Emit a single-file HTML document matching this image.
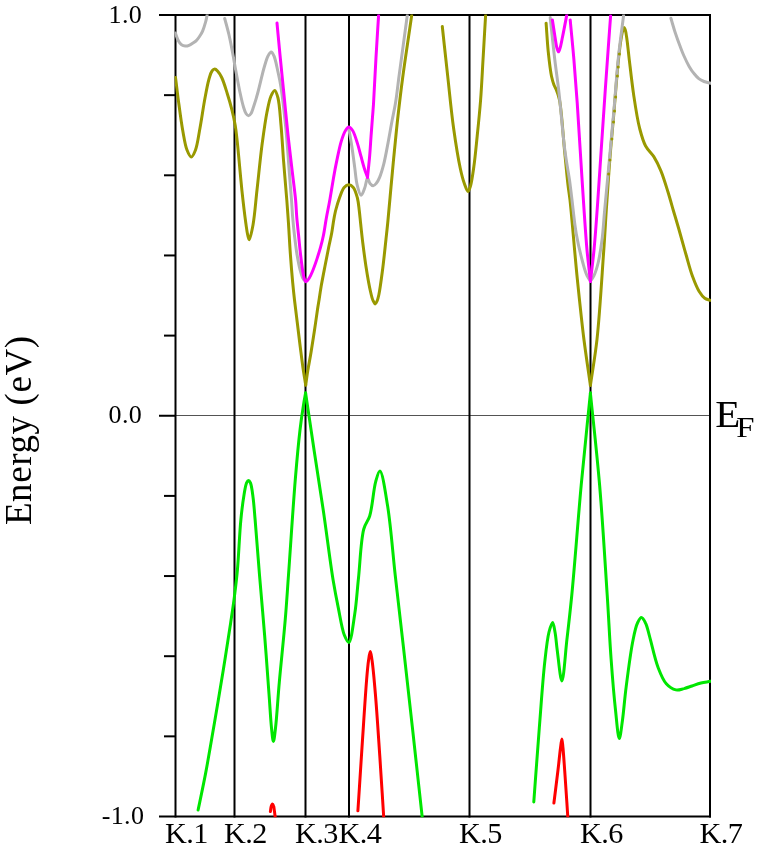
<!DOCTYPE html>
<html lang="en">
<head>
<meta charset="utf-8">
<title>Band structure</title>
<style>
html,body{margin:0;padding:0;background:#fff;}
body{width:761px;height:846px;overflow:hidden;position:relative;}
svg{position:absolute;left:0;top:0;display:block;will-change:transform;}
text{font-family:"Liberation Serif",serif;fill:#000;}
.c{fill:none;stroke-width:3;stroke-linecap:round;stroke-linejoin:round;}
.f{stroke:#000;stroke-width:2;fill:none;}
</style>
</head>
<body>
<svg width="761" height="846" viewBox="0 0 761 846">
<rect x="0" y="0" width="761" height="846" fill="#fff"/>
<defs><clipPath id="cp"><rect x="174.5" y="14.5" width="536.5" height="802.8"/></clipPath></defs>
<line x1="175.5" y1="415.5" x2="710.0" y2="415.5" stroke="#000" stroke-opacity="0.67" stroke-width="1"/>
<line class="f" x1="175.5" y1="14.0" x2="175.5" y2="817.5"/>
<line class="f" x1="234.5" y1="14.0" x2="234.5" y2="817.5"/>
<line class="f" x1="305.5" y1="14.0" x2="305.5" y2="817.5"/>
<line class="f" x1="349.0" y1="14.0" x2="349.0" y2="817.5"/>
<line class="f" x1="469.5" y1="14.0" x2="469.5" y2="817.5"/>
<line class="f" x1="590.5" y1="14.0" x2="590.5" y2="817.5"/>
<line class="f" x1="710.0" y1="14.0" x2="710.0" y2="817.5"/>
<line class="f" x1="159" y1="15.0" x2="711.0" y2="15.0"/>
<line class="f" x1="159" y1="816.5" x2="711.0" y2="816.5"/>
<line class="f" x1="164" y1="95.15" x2="175.5" y2="95.15"/>
<line class="f" x1="164" y1="175.30" x2="175.5" y2="175.30"/>
<line class="f" x1="164" y1="255.45" x2="175.5" y2="255.45"/>
<line class="f" x1="164" y1="335.60" x2="175.5" y2="335.60"/>
<line class="f" x1="159" y1="415.75" x2="175.5" y2="415.75"/>
<line class="f" x1="164" y1="495.90" x2="175.5" y2="495.90"/>
<line class="f" x1="164" y1="576.05" x2="175.5" y2="576.05"/>
<line class="f" x1="164" y1="656.20" x2="175.5" y2="656.20"/>
<line class="f" x1="164" y1="736.35" x2="175.5" y2="736.35"/>
<g clip-path="url(#cp)">
<path class="c" stroke="#999900" d="M175.5 77.4C176.7 86.6 177.7 95.9 179.0 105.0C180.2 114.1 181.5 123.9 183.0 132.0C184.2 138.6 185.2 145.5 187.0 150.0C188.2 153.0 189.9 157.0 191.3 157.0C192.7 157.0 194.3 153.1 195.5 150.0C197.5 144.8 198.5 135.9 200.0 128.0C201.7 118.8 203.3 106.8 205.0 98.0C206.3 90.9 207.6 83.9 209.0 79.0C210.0 75.7 210.7 72.7 212.0 71.0C212.8 69.9 213.8 69.0 214.7 69.0C215.6 69.0 216.6 70.0 217.5 71.0C218.9 72.5 220.4 74.7 221.7 77.5C223.7 81.6 225.6 88.3 227.3 93.7C229.0 99.0 230.5 104.1 231.8 109.4C233.1 114.6 234.3 120.1 235.2 125.2C236.0 129.8 236.4 133.9 236.9 138.5C237.5 143.6 237.9 148.0 238.5 154.4C239.4 164.0 240.7 178.6 241.9 190.3C243.1 201.5 244.7 214.9 245.8 223.0C246.5 227.8 246.9 231.4 247.6 234.5C248.1 236.6 248.6 239.7 249.2 239.7C250.2 239.7 251.9 231.0 253.0 225.0C254.7 215.9 255.6 202.4 257.0 190.0C258.6 175.9 260.2 158.8 262.0 145.0C263.6 133.1 265.2 121.0 267.0 112.0C268.3 105.7 269.3 99.9 271.0 96.0C272.1 93.5 273.6 90.3 274.7 90.4C275.9 90.5 277.1 94.6 278.0 98.0C279.6 104.2 280.1 115.4 281.0 125.0C282.0 135.9 282.6 147.9 283.5 160.0C284.5 172.9 285.9 188.4 286.8 200.0C287.5 208.9 287.9 215.3 288.5 223.6C289.1 232.9 289.6 243.3 290.3 253.2C291.0 263.0 291.9 274.2 292.7 282.7C293.3 289.2 293.8 293.9 294.5 300.0C295.3 306.9 296.3 314.6 297.2 322.0C298.1 329.6 299.0 337.3 300.0 345.0C301.0 352.7 302.0 360.9 303.0 368.0C303.9 374.1 304.8 379.3 305.7 385.0"/>
<path class="c" stroke="#999900" d="M305.7 385.0C306.4 380.2 307.0 375.7 307.8 370.6C308.7 364.9 310.0 358.7 311.0 352.4C312.1 345.7 313.2 338.6 314.3 331.6C315.4 324.3 316.6 315.5 317.5 309.5C318.1 305.4 318.6 302.7 319.2 299.0C319.8 294.9 320.4 290.8 321.2 286.0C322.3 279.8 323.9 271.7 325.2 265.0C326.4 258.8 327.6 252.9 328.7 247.3C329.7 242.3 330.9 237.6 331.7 233.1C332.4 229.2 332.8 225.7 333.4 222.0C334.0 218.3 334.6 214.8 335.5 211.0C336.6 206.7 338.1 201.6 339.6 197.5C341.0 193.9 342.2 189.6 344.1 187.5C345.5 186.0 347.3 184.8 348.8 184.8C350.3 184.8 352.0 185.9 353.3 187.4C355.2 189.6 356.4 194.3 357.4 198.0C358.4 201.8 358.7 205.8 359.2 210.0C359.8 214.7 360.2 219.8 360.8 225.0C361.4 230.7 362.0 236.6 362.8 243.0C363.7 250.2 364.7 258.1 365.9 266.0C367.2 274.4 369.1 285.7 370.6 292.0C371.4 295.6 372.0 298.3 373.0 300.5C373.7 302.0 374.6 304.0 375.3 304.0C376.0 304.0 376.7 301.9 377.3 300.5C378.0 298.8 378.3 297.2 378.9 294.5C380.0 289.3 381.3 279.4 382.4 271.0C383.7 261.4 384.9 249.2 385.9 240.0C386.7 232.6 387.3 227.5 388.0 220.0C388.9 210.4 390.0 198.2 391.0 187.0C392.1 175.5 393.1 163.7 394.3 152.0C395.5 140.1 396.6 128.1 398.0 116.0C399.4 103.7 400.9 91.0 402.5 79.0C404.0 67.7 405.6 56.8 407.2 46.0C408.7 35.6 410.2 25.5 411.7 15.3"/>
<path class="c" stroke="#999900" d="M442.3 26.5C444.1 43.1 445.8 59.4 447.7 76.2C449.6 93.3 451.3 112.1 453.6 128.2C455.6 142.4 458.0 157.7 460.2 168.0C461.6 174.6 462.9 179.7 464.5 184.0C465.6 187.0 466.9 191.5 468.0 191.5C468.9 191.5 469.7 188.4 470.5 186.0C471.8 181.6 472.8 174.1 473.8 167.0C475.1 157.9 476.1 146.7 477.2 136.0C478.4 124.5 479.6 112.7 480.6 100.0C481.7 85.8 482.4 69.5 483.3 55.0C484.1 41.4 484.8 28.5 485.6 15.3"/>
<path class="c" stroke="#999900" d="M546.1 23.2C546.8 32.6 547.3 42.3 548.2 51.4C549.1 59.9 550.2 70.1 551.5 76.2C552.3 79.9 553.1 82.6 554.0 85.0C554.7 86.8 555.5 87.7 556.2 89.5C557.3 92.2 558.5 95.1 559.5 100.0C561.6 110.4 563.0 134.8 564.5 150.0C565.8 162.7 566.9 175.8 568.0 185.0C568.7 191.1 569.2 193.0 570.0 200.0C571.8 215.9 574.8 254.3 577.3 278.8C579.5 300.3 581.6 320.5 583.9 339.3C586.0 355.7 588.2 370.0 590.4 385.3"/>
<path class="c" stroke="#999900" d="M590.4 385.3C592.6 370.0 595.0 357.1 597.0 339.3C599.7 315.0 601.9 276.4 603.6 252.6C604.8 235.9 605.4 223.8 606.3 210.0C607.2 197.0 608.1 182.9 608.9 172.0C609.5 163.7 609.9 158.2 610.6 150.0C611.5 139.5 612.6 127.2 613.8 114.0C615.2 97.8 616.9 74.2 618.4 60.0C619.4 50.7 620.4 42.5 621.4 37.0C621.9 33.9 622.4 31.5 623.0 29.8C623.3 28.8 623.7 27.4 624.1 27.4C624.5 27.4 624.9 28.9 625.3 30.0C625.9 31.7 626.2 34.1 626.6 37.0C627.4 42.0 628.1 49.5 629.0 57.3C630.3 68.0 631.9 82.9 633.7 95.1C635.4 106.5 637.2 118.9 639.6 128.2C641.4 135.1 642.9 141.0 645.6 146.0C647.9 150.2 651.3 152.7 653.8 156.6C656.5 160.9 658.7 165.5 660.9 170.8C663.5 177.1 665.9 185.2 668.0 192.0C669.9 198.2 671.4 203.7 673.2 210.0C675.3 217.1 677.7 225.0 679.8 232.5C681.9 239.9 683.9 247.2 686.0 254.5C688.1 261.7 690.0 269.5 692.4 276.0C694.5 281.7 696.7 287.5 699.2 291.5C701.0 294.4 702.7 296.8 704.8 298.3C706.5 299.5 708.4 299.6 710.2 300.3"/>
<path class="c" stroke="#b3b3b3" d="M175.4 33.0C176.4 35.7 177.3 38.9 178.5 41.0C179.4 42.6 180.3 44.0 181.5 44.8C182.6 45.5 183.9 45.9 185.2 46.0C186.4 46.1 187.8 45.8 189.0 45.3C190.4 44.8 191.8 43.8 193.0 43.0C194.2 42.2 195.3 41.6 196.3 40.6C197.5 39.5 198.5 38.0 199.5 36.5C200.6 34.9 201.7 33.2 202.6 31.1C203.8 28.4 204.9 24.6 205.7 21.7C206.4 19.2 206.7 16.9 207.2 14.5"/>
<path class="c" stroke="#b3b3b3" d="M224.7 18.5C226.1 23.8 227.6 28.8 228.9 34.5C230.4 41.0 232.0 49.4 233.1 55.5C234.0 60.2 234.4 63.1 235.3 68.0C236.6 74.8 238.5 85.4 240.0 92.5C241.2 98.0 242.3 103.2 243.5 107.0C244.3 109.6 245.0 112.0 246.0 113.5C246.7 114.6 247.7 115.8 248.5 115.8C249.3 115.8 250.3 114.6 251.0 113.5C252.0 112.0 252.6 109.6 253.5 107.0C254.8 103.1 256.5 97.6 258.0 92.0C259.9 85.0 262.1 74.6 264.0 68.0C265.4 63.3 266.5 58.8 268.0 56.0C269.0 54.2 270.2 52.0 271.2 52.0C272.2 52.0 273.1 54.1 274.0 56.0C275.6 59.5 276.8 66.7 278.0 72.0C279.2 77.3 280.1 81.4 281.1 88.0C282.7 98.3 284.4 114.3 285.8 128.2C287.3 143.2 288.5 161.8 289.5 175.0C290.3 184.6 290.9 192.4 291.5 200.0C292.0 206.4 292.2 211.8 292.7 217.7C293.2 223.6 293.8 229.6 294.5 235.5C295.2 241.4 295.9 247.5 296.8 253.2C297.7 258.5 298.6 264.1 299.8 268.6C300.8 272.3 301.7 276.2 303.0 278.5C303.8 279.9 304.8 280.6 305.7 281.6"/>
<path class="c" stroke="#b3b3b3" d="M348.8 128.4C349.8 134.5 350.9 140.4 351.9 146.8C352.9 153.6 353.9 161.4 354.8 168.1C355.6 174.1 355.9 180.2 357.2 185.1C358.2 189.0 359.8 195.2 361.1 195.3C362.3 195.4 363.7 190.7 364.7 188.0C365.9 185.0 366.5 178.1 367.5 178.0C368.3 177.9 368.9 182.2 370.0 183.5C370.9 184.6 372.1 185.8 373.2 185.8C374.3 185.8 375.5 184.2 376.5 183.0C377.7 181.5 378.6 179.7 379.6 177.3C381.1 173.8 382.5 168.8 383.8 163.8C385.4 157.6 386.7 149.7 388.1 142.6C389.5 135.4 390.7 127.9 392.0 121.0C393.2 114.7 394.4 109.7 395.5 103.0C396.9 94.7 397.9 84.5 399.2 75.0C400.5 65.3 401.9 55.4 403.2 45.5C404.6 35.5 405.9 25.4 407.3 15.3"/>
<path class="c" stroke="#b3b3b3" d="M550.2 17.5C551.7 31.6 553.2 46.5 554.8 59.7C556.2 71.4 557.6 80.3 559.0 92.8C560.9 109.3 562.7 134.0 564.8 150.0C566.3 161.6 568.2 171.0 569.5 180.0C570.5 187.3 571.1 192.5 572.0 200.0C573.2 209.8 574.4 223.2 576.3 234.0C578.1 244.1 580.8 255.4 582.9 263.0C584.3 268.1 585.4 272.4 587.0 275.5C588.1 277.6 589.3 280.5 590.5 280.5C591.7 280.5 592.9 277.6 594.0 275.5C595.6 272.4 596.9 267.8 598.1 263.0C599.7 256.5 600.9 248.2 602.0 240.0C603.2 230.7 603.5 222.8 604.7 210.0C606.8 187.1 611.1 141.8 613.6 114.0C615.5 92.6 616.6 74.8 618.4 57.3C620.0 42.2 621.9 29.2 623.6 15.2"/>
<path class="c" stroke="#b3b3b3" d="M670.9 18.3C672.3 22.9 673.5 27.5 675.0 32.0C676.5 36.5 678.2 41.3 679.8 45.5C681.2 49.2 682.4 52.5 684.0 56.0C685.6 59.6 687.5 63.6 689.3 66.7C690.8 69.3 692.3 71.5 694.0 73.5C695.5 75.4 697.1 77.2 698.8 78.6C700.4 79.9 702.1 80.7 704.0 81.5C706.0 82.3 708.4 82.7 710.6 83.3"/>
<path class="c" stroke="#ff00ff" d="M277.0 23.0C278.0 33.7 278.9 43.7 280.0 55.0C281.2 67.6 282.7 81.7 284.0 95.0C285.3 108.3 286.6 121.9 288.0 135.0C289.4 147.6 291.0 160.5 292.3 172.0C293.5 182.0 294.8 191.7 295.6 200.0C296.2 206.6 296.3 211.8 296.8 217.7C297.3 223.6 298.0 229.6 298.6 235.5C299.2 241.4 299.7 247.3 300.4 253.2C301.1 259.1 301.9 266.2 302.7 270.9C303.2 274.0 303.6 276.6 304.2 278.5C304.6 279.8 305.1 281.4 305.7 281.6C306.2 281.7 306.8 281.1 307.3 280.6C308.0 280.0 308.6 279.1 309.3 278.0C310.3 276.4 311.2 274.4 312.2 272.0C313.7 268.5 315.5 263.3 316.9 259.1C318.2 255.1 319.4 251.2 320.5 247.3C321.6 243.4 322.5 239.9 323.4 235.5C324.5 230.2 325.3 223.7 326.4 217.7C327.5 211.7 328.8 205.8 329.9 199.5C331.1 192.6 332.3 184.9 333.5 178.0C334.6 171.6 335.7 165.7 337.0 159.6C338.3 153.4 339.7 146.4 341.3 141.1C342.6 137.0 343.9 133.0 345.5 130.5C346.5 128.9 347.6 127.0 348.8 127.0C350.0 127.0 351.4 128.8 352.6 130.5C354.4 133.2 355.8 138.4 357.2 142.6C358.7 147.1 359.8 152.1 361.1 156.7C362.3 161.1 363.5 165.8 364.7 169.5C365.6 172.4 366.6 174.7 367.5 177.3"/>
<path class="c" stroke="#ff00ff" d="M367.5 177.3C368.2 170.4 369.0 163.6 369.6 156.7C370.2 149.7 370.6 142.3 371.1 135.5C371.6 129.1 372.1 122.6 372.5 117.0C372.9 112.3 373.1 109.7 373.5 104.0C374.2 93.2 375.1 72.5 376.0 57.3C376.8 42.9 377.7 29.3 378.6 15.3"/>
<path class="c" stroke="#ff00ff" d="M552.4 19.9C553.3 25.6 554.2 31.9 555.0 37.0C555.7 41.2 556.2 45.6 557.0 48.3C557.5 49.8 558.0 51.8 558.5 51.8C559.0 51.8 559.5 49.8 560.0 48.3C560.9 45.6 561.6 41.4 562.5 37.0C563.8 30.8 565.4 22.2 566.8 14.8"/>
<path class="c" stroke="#ff00ff" d="M570.2 19.9C571.4 33.2 572.8 46.2 573.9 59.7C575.1 73.8 576.2 88.0 577.2 102.7C578.3 118.1 579.2 134.0 580.2 150.0C581.2 166.4 582.3 183.3 583.4 200.0C584.5 216.7 585.7 235.3 587.0 250.0C588.1 261.7 589.3 271.0 590.4 281.5"/>
<path class="c" stroke="#ff00ff" d="M590.4 281.5C591.6 271.0 592.9 261.4 594.0 250.0C595.3 236.3 596.4 220.8 597.5 205.0C598.8 187.6 599.9 168.8 601.2 150.0C602.5 130.3 603.8 110.7 605.3 89.5C606.9 66.1 608.8 40.4 610.6 15.8"/>
<path class="c" stroke="#00e600" d="M198.1 810.0C200.6 798.0 203.0 786.9 205.5 773.9C208.4 758.6 211.4 740.7 214.3 723.7C217.3 706.2 220.4 687.7 223.2 670.5C225.8 654.3 228.6 636.7 230.6 623.2C232.1 613.1 233.3 605.5 234.4 596.6C235.5 587.7 236.5 580.3 237.4 570.0C238.7 555.9 239.5 533.3 240.9 519.5C241.8 509.9 242.9 501.7 244.0 495.0C244.8 490.3 245.4 485.4 246.5 483.0C247.1 481.8 247.8 480.5 248.5 480.5C249.2 480.5 249.9 481.7 250.5 483.0C251.7 485.7 252.3 491.8 253.0 497.0C253.9 503.6 254.3 510.3 255.1 519.5C256.3 533.9 258.0 556.1 259.5 575.0C261.1 594.6 263.0 615.1 264.6 635.0C266.2 654.7 267.7 677.0 269.0 694.0C270.0 706.9 270.6 719.3 271.5 728.0C272.1 733.5 272.7 741.4 273.4 741.4C274.1 741.4 274.8 733.8 275.5 728.0C276.8 717.3 277.8 698.7 279.3 682.3C281.0 663.2 283.6 639.3 285.2 620.2C286.6 603.9 287.2 592.9 288.5 575.0C290.4 549.0 293.1 505.9 295.3 479.3C296.9 460.2 298.4 443.7 300.0 430.0C301.1 420.3 302.4 411.8 303.5 405.0C304.2 400.3 304.9 397.0 305.6 393.0"/>
<path class="c" stroke="#00e600" d="M305.6 393.0C308.5 412.3 311.2 431.4 314.2 451.0C317.2 471.2 320.5 491.4 323.6 512.4C326.8 534.4 330.2 562.3 333.1 580.0C335.0 591.5 336.5 599.1 338.4 608.4C340.2 617.4 341.9 629.0 344.3 635.0C345.7 638.4 347.4 642.6 348.8 642.4C351.3 642.0 353.1 624.3 354.7 614.3C356.5 603.0 357.1 591.0 358.5 578.0C360.1 562.9 360.8 539.9 363.8 529.0C365.4 523.1 368.0 521.5 369.7 516.0C372.4 507.4 373.4 489.8 375.7 481.7C377.0 477.0 378.5 470.9 379.9 471.0C382.4 471.2 385.3 491.8 387.5 505.3C390.7 524.4 392.6 551.6 395.2 575.0C397.9 598.8 400.6 622.2 403.4 646.8C406.3 672.7 409.3 699.2 412.3 726.6C415.5 755.8 418.9 786.9 422.2 817.0"/>
<path class="c" stroke="#00e600" d="M533.8 801.9C535.6 777.3 537.4 752.0 539.3 728.0C541.1 705.3 542.8 679.4 544.8 661.7C546.1 649.8 547.2 639.1 549.0 632.0C550.1 627.9 551.6 622.5 552.6 622.6C553.6 622.7 554.3 628.3 555.0 632.0C556.0 637.1 556.3 643.7 557.3 650.7C558.5 659.6 560.4 681.0 561.9 681.0C563.6 681.0 565.3 653.7 566.9 639.7C568.6 625.1 570.0 613.2 571.8 595.0C574.6 566.5 578.0 520.1 581.2 485.1C584.2 453.1 587.3 423.8 590.4 393.1"/>
<path class="c" stroke="#00e600" d="M590.4 393.1C593.5 423.7 596.9 453.0 599.6 485.0C602.6 520.0 605.1 563.3 607.2 595.0C608.8 619.2 609.6 638.9 611.1 659.0C612.4 677.0 613.9 695.5 615.5 710.0C616.7 720.9 618.0 738.5 619.3 738.5C620.3 738.5 621.5 727.1 622.5 720.0C623.8 710.5 624.6 698.7 626.2 686.6C628.0 672.3 630.7 651.3 633.1 639.7C634.5 632.7 635.6 626.9 637.5 623.0C638.7 620.6 640.1 617.6 641.4 617.6C642.7 617.6 644.3 620.6 645.5 623.0C647.3 626.4 648.1 631.4 649.7 636.9C652.0 645.1 654.8 658.8 658.0 667.3C660.5 673.8 662.8 679.9 666.3 683.8C669.0 686.8 672.7 689.2 675.9 689.9C678.6 690.5 681.3 689.2 684.0 688.6C686.7 687.9 689.3 686.9 692.0 686.0C694.9 685.0 697.9 683.8 701.0 683.0C704.1 682.2 707.3 681.9 710.4 681.3"/>
<path class="c" stroke="#ff0000" d="M270.4 811.5C270.7 809.8 270.8 807.9 271.2 806.5C271.5 805.5 272.0 804.0 272.4 804.0C272.8 804.0 273.3 805.1 273.6 806.0C274.1 807.3 274.1 809.3 274.4 811.0C274.7 812.9 274.9 815.0 275.2 817.0"/>
<path class="c" stroke="#ff0000" d="M357.9 810.8C359.3 789.6 360.6 768.8 362.0 747.3C363.5 725.2 365.3 695.8 366.6 680.0C367.3 671.4 367.8 665.2 368.6 660.0C369.1 656.6 369.7 651.6 370.3 651.6C370.9 651.6 371.4 656.2 372.0 660.0C373.1 667.5 374.3 681.0 375.4 694.1C376.9 711.7 378.4 735.6 379.8 756.2C381.2 776.6 382.4 796.7 383.7 817.0"/>
<path class="c" stroke="#ff0000" d="M553.9 803.0C555.3 792.0 556.8 779.9 558.0 770.0C559.0 761.9 559.7 753.7 560.5 748.0C561.0 744.3 561.5 739.0 561.9 739.0C562.3 739.0 562.6 744.2 563.0 748.0C563.6 754.6 564.3 765.0 565.0 775.0C565.9 787.5 566.9 803.0 567.8 817.0"/>
<circle cx="619.4" cy="54" r="1.5" fill="#999900"/>
<circle cx="618.2" cy="67" r="1.5" fill="#999900"/>
<circle cx="617.4" cy="76" r="1.5" fill="#999900"/>
<circle cx="615.6" cy="97" r="1.5" fill="#999900"/>
<circle cx="614.5" cy="111" r="1.5" fill="#999900"/>
<circle cx="613.5" cy="122" r="1.5" fill="#999900"/>
<circle cx="611.9" cy="139" r="1.5" fill="#999900"/>
<circle cx="609.9" cy="160" r="1.5" fill="#999900"/>
<circle cx="608.6" cy="174" r="1.5" fill="#999900"/>
</g>
<g font-size="26px" text-anchor="end" letter-spacing="0.4">
<text x="142.2" y="23.3">1.0</text>
<text x="142.2" y="423.2">0.0</text>
<text x="144.4" y="823.9">-1.0</text>
</g>
<g font-size="30.2px" letter-spacing="-0.6">
<text x="165.0" y="843.0">K.1</text>
<text x="224.0" y="843.0">K.2</text>
<text x="295.0" y="843.0">K.3</text>
<text x="338.5" y="843.0">K.4</text>
<text x="459.0" y="843.0">K.5</text>
<text x="580.0" y="843.0">K.6</text>
<text x="699.5" y="843.0">K.7</text>
</g>
<text font-size="37px" letter-spacing="0.6" text-anchor="middle" transform="translate(31.1,430.2) rotate(-90)">Energy (eV)</text>
<text font-size="37px" transform="translate(715.2,426.8) scale(1.107,1)">E</text>
<text font-size="29.8px" transform="translate(736.3,436.8) scale(1.1,1)">F</text>
</svg>
</body>
</html>
